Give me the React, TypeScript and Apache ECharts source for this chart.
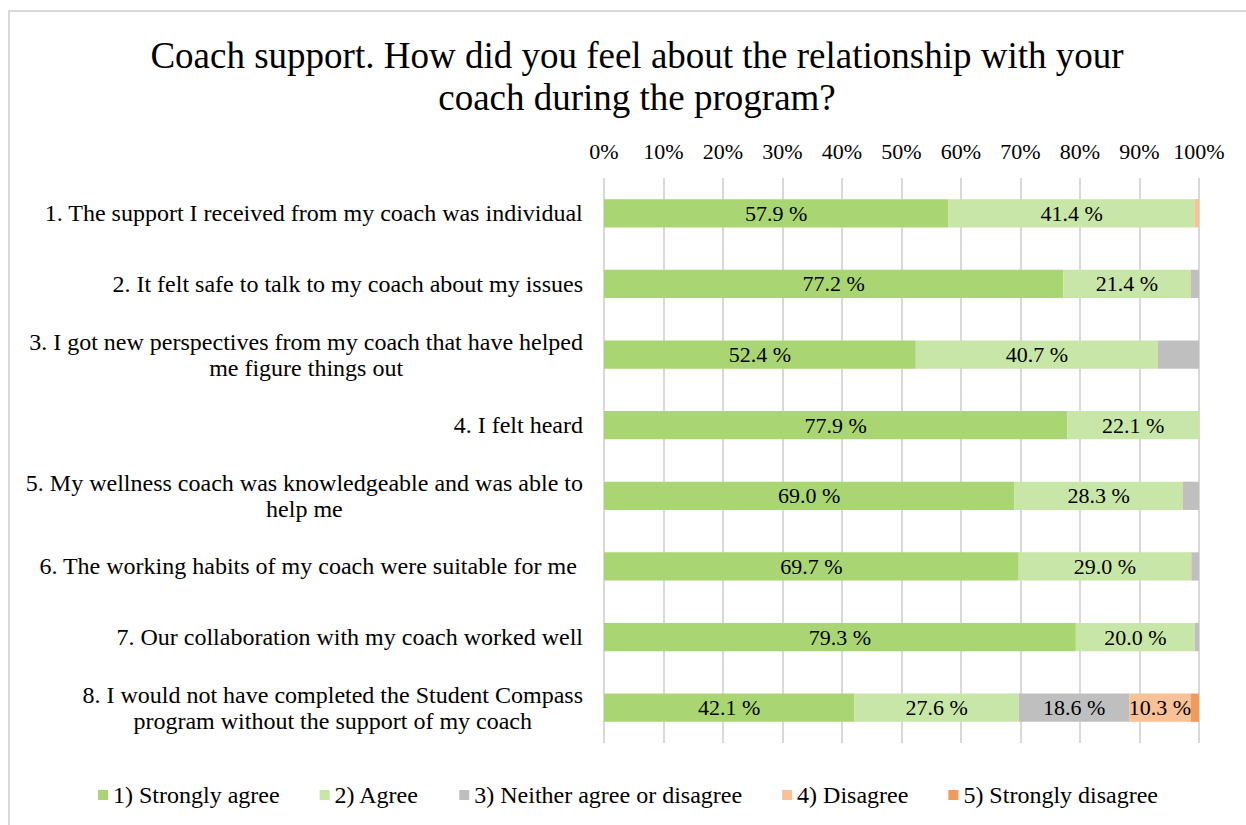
import React, { useEffect, useRef } from "react";
import * as echarts from "echarts";

const categories = [
  "1. The support I received from my coach was individual",
  "2. It felt safe to talk to my coach about my issues",
  "3. I got new perspectives from my coach that have helped\nme figure things out",
  "4. I felt heard",
  "5. My wellness coach was knowledgeable and was able to\nhelp me",
  "6. The working habits of my coach were suitable for me ",
  "7. Our collaboration with my coach worked well",
  "8. I would not have completed the Student Compass\nprogram without the support of my coach",
];

const seriesNames = [
  "1) Strongly agree",
  "2) Agree",
  "3) Neither agree or disagree",
  "4) Disagree",
  "5) Strongly disagree",
];

const stronglyAgree = [57.9, 77.2, 52.4, 77.9, 69.0, 69.7, 79.3, 42.1];
const agree = [41.4, 21.4, 40.7, 22.1, 28.3, 29.0, 20.0, 27.6];
const neither = [0, 1.4, 6.9, 0, 2.7, 1.3, 0.7, 18.6];
const disagree = [0.7, 0, 0, 0, 0, 0, 0, 10.3];
const stronglyDisagree = [0, 0, 0, 0, 0, 0, 0, 1.4];

const colors = ["#A9D672", "#C8E6A7", "#BFBFBF", "#F8C196", "#F19A5B"];

const FONT = "'Liberation Serif', 'Times New Roman', serif";

export default function App() {
  const ref = useRef<HTMLDivElement>(null);
  useEffect(() => {
    if (!ref.current) return;
    const chart = echarts.init(ref.current, undefined, { renderer: "svg" });
    const dataSets = [stronglyAgree, agree, neither, disagree, stronglyDisagree];
    chart.setOption({
      animation: false,
      backgroundColor: "#ffffff",
      title: {
        text: "Coach support. How did you feel about the relationship with your\ncoach during the program?",
        left: 622,
        top: 17,
        textAlign: "center",
        textStyle: {
          fontFamily: FONT,
          fontSize: 37,
          fontWeight: "normal",
          color: "#000",
          lineHeight: 42,
        },
      },
      legend: {
        data: seriesNames,
        bottom: 13,
        left: "center",
        itemWidth: 10,
        itemHeight: 10,
        itemGap: 40,
        icon: "rect",
        textStyle: { fontFamily: FONT, fontSize: 24, color: "#000" },
      },
      grid: { left: 594, right: 47, top: 166, bottom: 82, containLabel: false },
      xAxis: {
        type: "value",
        position: "top",
        min: 0,
        max: 100,
        interval: 10,
        axisLine: { show: false },
        axisTick: { show: false },
        axisLabel: {
          formatter: "{value}%",
          fontFamily: FONT,
          fontSize: 22,
          color: "#000",
          margin: 16,
        },
        splitLine: { show: true, lineStyle: { color: "#d9d9d9", width: 2 } },
      },
      yAxis: {
        type: "category",
        data: categories,
        inverse: true,
        axisLine: { show: false },
        axisTick: { show: false },
        axisLabel: {
          margin: 21,
          fontFamily: FONT,
          fontSize: 24,
          color: "#000",
          lineHeight: 26,
          formatter: (v: string) =>
            v
              .split("\n")
              .map((l) => `{c|${l}}`)
              .join("\n"),
          rich: {
            c: {
              align: "center",
              fontFamily: FONT,
              fontSize: 24,
              color: "#000",
              lineHeight: 26,
            },
          },
        },
      },
      series: seriesNames.map((name, i) => ({
        name,
        type: "bar",
        stack: "total",
        barWidth: "40%",
        itemStyle: { color: colors[i] },
        label: {
          show: true,
          position: "inside",
          fontFamily: FONT,
          fontSize: 22,
          color: "#000",
          formatter: (p: any) => (p.value >= 10 ? `${Number(p.value).toFixed(1)} %` : ""),
        },
        data: dataSets[i],
      })),
    });
    return () => chart.dispose();
  }, []);
  return (
    <div
      style={{
        position: "absolute",
        left: 8,
        top: 10,
        width: 1238,
        height: 815,
        borderLeft: "2px solid #d9d9d9",
        borderTop: "2px solid #d9d9d9",
        boxSizing: "border-box",
        overflow: "hidden",
      }}
    >
      <div ref={ref} style={{ width: 1236, height: 813 }} />
    </div>
  );
}
